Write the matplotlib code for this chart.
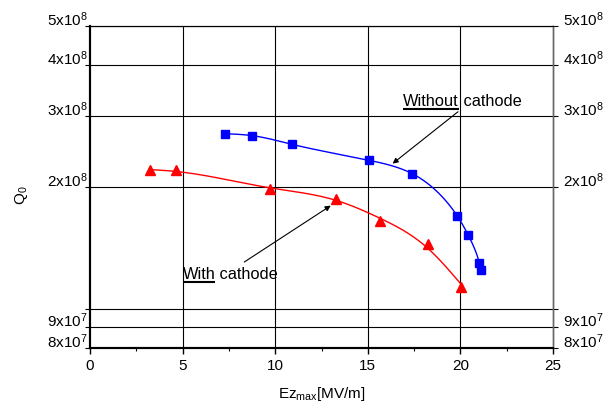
import numpy as np
import matplotlib
matplotlib.use("Agg")
import matplotlib.pyplot as plt
from matplotlib.ticker import FixedLocator, FixedFormatter, MultipleLocator, NullLocator

plt.rcParams['font.family'] = ['Liberation Sans', 'DejaVu Sans']
plt.rcParams['mathtext.fontset'] = 'custom'
plt.rcParams['mathtext.rm'] = 'Liberation Sans'
plt.rcParams['mathtext.it'] = 'Liberation Sans'

# Data
blue_x = [7.29, 8.76, 10.92, 15.06, 17.39, 19.82, 20.43, 21.02, 21.10]
blue_q = [2.71e8, 2.68e8, 2.55e8, 2.33e8, 2.16e8, 1.70e8, 1.52e8, 1.30e8, 1.25e8]
red_x = [3.24, 4.64, 9.70, 13.27, 15.68, 18.25, 20.05]
red_q = [2.20e8, 2.20e8, 1.98e8, 1.87e8, 1.65e8, 1.45e8, 1.13e8]

ytick_vals = [8e7, 9e7, 1e8, 2e8, 3e8, 4e8, 5e8]
ytick_labels = [r'8x10$^{7}$', r'9x10$^{7}$', '', r'2x10$^{8}$', r'3x10$^{8}$',
                r'4x10$^{8}$', r'5x10$^{8}$']
xtick_vals = [0, 5, 10, 15, 20, 25]

XMIN, XMAX, YMIN, YMAX = 0, 25, 8e7, 5e8
ASP = 322 / 463


def to_norm(x, q):
    u = (np.asarray(x, float) - XMIN) / (XMAX - XMIN)
    v = (np.log10(q) - np.log10(YMIN)) / (np.log10(YMAX) - np.log10(YMIN)) * ASP
    return u, v


def from_norm(u, v):
    xs = u * (XMAX - XMIN) + XMIN
    qs = 10 ** (v / ASP * (np.log10(YMAX) - np.log10(YMIN)) + np.log10(YMIN))
    return xs, qs


def natural_spline(t, y, tt):
    n = len(t)
    h = np.diff(t)
    A = np.zeros((n, n))
    r = np.zeros(n)
    A[0, 0] = A[-1, -1] = 1
    for i in range(1, n - 1):
        A[i, i - 1] = h[i - 1]
        A[i, i] = 2 * (h[i - 1] + h[i])
        A[i, i + 1] = h[i]
        r[i] = 3 * ((y[i + 1] - y[i]) / h[i] - (y[i] - y[i - 1]) / h[i - 1])
    c = np.linalg.solve(A, r)
    b = (np.diff(y) / h) - h * (2 * c[:-1] + c[1:]) / 3
    d = np.diff(c) / (3 * h)
    idx = np.clip(np.searchsorted(t, tt) - 1, 0, n - 2)
    dt = tt - t[idx]
    return y[idx] + b[idx] * dt + c[idx] * dt ** 2 + d[idx] * dt ** 3


def spline_curve(x, q):
    """Parametric spline connecting the markers."""
    u, v = to_norm(x, q)
    t = np.concatenate([[0], np.cumsum(np.hypot(np.diff(u), np.diff(v)))])
    tt = np.linspace(0, t[-1], 400)
    return from_norm(natural_spline(t, u, tt), natural_spline(t, v, tt))


def smooth_curve(x, q, lam, M=300):
    """Smoothing (penalised) curve through the markers."""
    u, v = to_norm(x, q)
    g = np.linspace(u[0], u[-1], M)
    h = g[1] - g[0]
    W = np.zeros((len(u), M))
    for i, ui in enumerate(u):
        j = min(int((ui - g[0]) / h), M - 2)
        w = (ui - g[j]) / h
        W[i, j] += 1 - w
        W[i, j + 1] += w
    D = np.zeros((M - 2, M))
    for k in range(M - 2):
        D[k, k:k + 3] = [1, -2, 1]
    f = np.linalg.solve(W.T @ W + lam / h ** 3 * D.T @ D, W.T @ v)
    return from_norm(g, f)


fig = plt.figure(figsize=(6.08, 4.07), dpi=100)
ax = fig.add_axes([90/608, 1 - 348.2/407, (553-90)/608, (348.2-26)/407])
ax.set_yscale('log')
ax.set_xlim(XMIN, XMAX)
ax.set_ylim(YMIN, YMAX)

# grid
for v in ytick_vals[1:]:
    ax.axhline(v, color='black', lw=0.8, zorder=1)
for v in xtick_vals[1:-1]:
    ax.axvline(v, color='black', lw=0.8, zorder=1)

# connecting curves
bx, bq = spline_curve(blue_x, blue_q)
ax.plot(bx, bq, color='#0000ff', lw=1.0, zorder=3)
rx, rq = smooth_curve(red_x, red_q, 6e-5)
ax.plot(rx, rq, color='#ff0000', lw=1.0, zorder=3)

ax.plot(blue_x, blue_q, 's', color='#0000ff', ms=5.5, zorder=4)
ax.plot(red_x, red_q, '^', color='#ff0000', ms=7.5, zorder=4)

# ticks
ax.yaxis.set_major_locator(FixedLocator(ytick_vals))
ax.yaxis.set_major_formatter(FixedFormatter(ytick_labels))
ax.yaxis.set_minor_locator(NullLocator())
ax.set_xticks(xtick_vals)
ax.xaxis.set_minor_locator(MultipleLocator(2.5))
ax.tick_params(axis='y', which='major', direction='out', length=3.5, width=0.8,
               labelsize=11, pad=-1.5)
ax.tick_params(axis='x', which='major', direction='out', length=4.5, width=1.0,
               labelsize=11, pad=3)
ax.tick_params(axis='x', which='minor', direction='out', length=2.5, width=0.8)
for lab in ax.get_yticklabels():
    lab.set_va('baseline')

# right axis
ax2 = ax.twinx()
ax2.set_yscale('log')
ax2.set_ylim(YMIN, YMAX)
ax2.yaxis.set_major_locator(FixedLocator(ytick_vals))
ax2.yaxis.set_major_formatter(FixedFormatter(ytick_labels))
ax2.yaxis.set_minor_locator(NullLocator())
ax2.tick_params(axis='y', which='major', direction='out', length=3.5, width=0.8,
                labelsize=11, pad=4)
for lab in ax2.get_yticklabels():
    lab.set_va('baseline')
for a in (ax, ax2):
    for s in ['left', 'bottom']:
        a.spines[s].set_linewidth(1.5)
    a.spines['top'].set_linewidth(0.8)
    a.spines['right'].set_linewidth(1.0)
    a.spines['right'].set_color('#666666')

ax.set_xlabel(r'Ez$_{\rm max}$[MV/m]', fontsize=11, labelpad=9)
fig.text(22/608, 1 - 195/407, r'Q$_{\rm 0}$', rotation=90, fontsize=11,
         ha='center', va='center')

# annotations
ax.annotate('', xy=(16.34, 2.286e8), xytext=(19.87, 3.07e8),
            arrowprops=dict(arrowstyle='-|>', color='black', lw=0.8,
                            mutation_scale=8, shrinkA=0, shrinkB=0), zorder=5)
ax.annotate('', xy=(13.0, 1.80e8), xytext=(8.33, 1.306e8),
            arrowprops=dict(arrowstyle='-|>', color='black', lw=0.8,
                            mutation_scale=8, shrinkA=0, shrinkB=0), zorder=5)

fig.canvas.draw()
renderer = fig.canvas.get_renderer()


def underlined(x, y, word, rest):
    t1 = ax.text(x, y, word, fontsize=11.8, ha='left', va='baseline', zorder=6)
    fig.canvas.draw()
    bb = t1.get_window_extent(renderer)
    inv = ax.transData.inverted()
    x1, _ = inv.transform((bb.x1, bb.y0))
    ax.text(x1, y, rest, fontsize=11.8, ha='left', va='baseline', zorder=6)
    disp_y = ax.transData.transform((x, y))[1] - 3.5
    _, yu = inv.transform((bb.x0, disp_y))
    ax.plot([x, x1], [yu, yu], color='black', lw=1.5, zorder=6,
            solid_capstyle='butt')


underlined(16.9, 3.18e8, 'Without', ' cathode')
underlined(5.0, 1.187e8, 'With', ' cathode')

fig.savefig('out.png', dpi=100)
